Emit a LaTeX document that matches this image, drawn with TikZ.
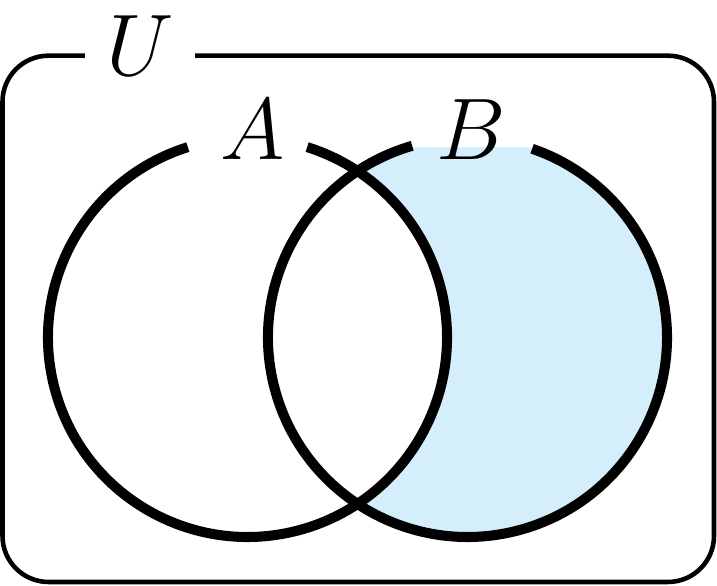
\documentclass[tikz,border=0pt]{standalone}
\definecolor{setfill}{RGB}{212,238,251}
\begin{document}
\begin{tikzpicture}[x=0.01cm, y=0.01cm,
  setline/.style={line width=2.85pt},
  setlab/.style={font=\fontsize{27.5}{33}\selectfont}]
\useasboundingbox (0,0) rectangle (717,586);
\def\rad{199.5}
\coordinate (cA) at (247.5,248.5);
\coordinate (cB) at (467.5,248.5);

% universe
\draw [line width=1.3pt, rounded corners=0.46cm] (2.5,4) rectangle (714,530.3);
\node [setlab, fill=white, inner xsep=6pt, inner ysep=1pt] (U) at (140,540) {$U$};

% B minus A
\begin{scope}
\clip (cB) circle (\rad);
\fill [setfill, even odd rule] (cB) circle (\rad) (cA) circle (\rad);
\end{scope}
\fill [white] (412,439) rectangle (532,470);

% the two sets
\draw [setline] (cA) ++(107.4:\rad) arc [start angle=107.4, end angle=432.6, radius=\rad];
\draw [setline] (cB) ++(106.1:\rad) arc [start angle=106.1, end angle=431.1, radius=\rad];
\node [setlab] (A) at (253,456) {$A$};
\node [setlab] (B) at (471,456) {$B$};
\end{tikzpicture}
\end{document}
